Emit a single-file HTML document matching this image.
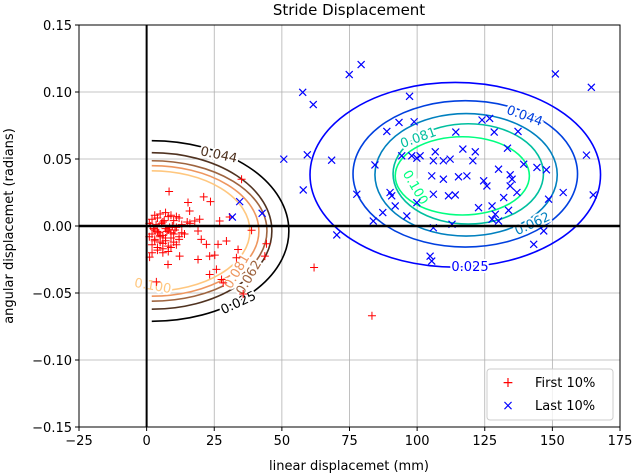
<!DOCTYPE html>
<html><head><meta charset="utf-8"><style>
body{margin:0;background:#fff}
svg{display:block;font-family:"DejaVu Sans","Liberation Sans",sans-serif}
</style></head><body>
<svg id="chart" width="634" height="474" viewBox="0 0 634 474">
<text x="349" y="15" text-anchor="middle" font-size="15">Stride Displacement</text>
<g id="grid"></g>
<g id="contours"></g>
<g id="points"></g>
<g id="axes"></g>
<text x="349" y="470" text-anchor="middle" font-size="13">linear displacemet (mm)</text>
<text transform="translate(13,226) rotate(-90)" text-anchor="middle" font-size="13">angular displacemet (radians)</text>
<g>
<rect x="487" y="369" width="126" height="51" rx="3" fill="#fff" fill-opacity="0.8" stroke="#ccc"/>
<g><text x="508" y="387" fill="red" font-size="14" text-anchor="middle">+</text><text x="535" y="387" font-size="13">First 10%</text></g>
<g><text x="508" y="410" fill="blue" font-size="14" text-anchor="middle">×</text><text x="535" y="410" font-size="13">Last 10%</text></g>
</g>
</svg>
<script>
const xTicks=[-25,0,25,50,75,100,125,150,175];
const yTicks=[-0.15,-0.10,-0.05,0.00,0.05,0.10,0.15];
const yTickLabels=["−0.15","−0.10","−0.05","0.00","0.05","0.10","0.15"];
const contourLevels=["0.025","0.044","0.062","0.081","0.100"];
const lastCx=[114.1,117.8,118.1,118.9,116.7];
const lastCy=[0.0382,0.0389,0.0382,0.0389,0.0374];
const lastRx=[53.7,41.5,33.7,27.8,24.8];
const lastRy=[0.0689,0.0546,0.0457,0.0374,0.0292];
const firstCx=[1.9,1.9,1.9,1.9,1.9];
const firstCy=[-0.0037,-0.0037,-0.0037,-0.0037,-0.0037];
const firstRx=[50.7,44.4,42.6,39.6,36.3];
const firstRy=[0.0674,0.0584,0.0524,0.0487,0.0449];
const lastX=[57.7,61.6,74.9,79.3,151.1,164.4,97.2,93.3,98.9,88.8,124,126.8,114.3,128.5,137.3,59.4,68.4,84.4,57.9,77.7,70.3,94.3,98,101.1,99.9,106.7,106,109.7,112.2,116.9,121.5,120.6,133.4,139.4,144.3,147.8,162.6,154,165.1,130.1,134.4,135.1,105.4,109.7,115.3,118.4,124.6,125.8,90,90.6,91.9,87.3,96.2,99.9,106,111.6,114.1,122.7,127.7,128.9,133.8,132,136.9,134.4,148.6,146.8,143.1,106,112.9,127.7,130.1,104.8,105.4,83.8,34.4,31.7,42.7,50.7];
const lastY=[0.0998,0.0906,0.113,0.1205,0.1135,0.1035,0.0968,0.0773,0.0778,0.0706,0.0791,0.0803,0.0701,0.0701,0.0706,0.0531,0.0491,0.0456,0.0269,0.0237,-0.0067,0.0524,0.0524,0.0524,0.0506,0.0554,0.0487,0.0487,0.0499,0.0574,0.0554,0.0487,0.0581,0.0461,0.0437,0.0419,0.0529,0.025,0.0232,0.0424,0.0382,0.0349,0.0374,0.0349,0.0367,0.0374,0.0337,0.0299,0.025,0.0225,0.015,0.01,0.0075,0.0174,0.0237,0.0225,0.0232,0.0137,0.015,0.0087,0.0117,0.0212,0.025,0.0299,0.02,-0.0037,-0.0137,-0.0013,0.0013,0.005,0.0037,-0.0225,-0.0262,0.0037,0.0182,0.0067,0.0095,0.0499];
const firstX=[8.3,15.3,21.1,23.6,15.9,35.1,27,30.7,38.8,44.3,43.7,33.2,29.5,33.8,19,20.2,25.2,23.3,19,12.2,7.9,1.1,3.6,25.8,23.3,27.7,28.3,35.7,22.1,26.4,17.8,19.6,61.9,83.3,
1,2,3,4,5,6,7,8,9,10,11,12,13,14,15,2,3,4,5,6,7,8,9,10,11,12,1.5,2.5,3.5,4.5,5.5,6.5,7.5,8.5,9.5,10.5,2,4,6,8,10,12,3,5,7,9,11,4,6,8,1,3,5,7,13,16,2,6,9];
const firstY=[0.0257,0.0175,0.0217,0.0182,0.0112,0.0349,0.0037,0.0067,-0.0032,-0.0132,-0.0225,-0.0237,-0.0112,-0.0175,-0.0037,-0.01,-0.0217,-0.0225,-0.025,-0.0225,-0.0287,-0.0232,-0.0417,-0.0324,-0.0362,-0.0399,-0.0424,-0.0507,-0.0137,-0.0137,0.0037,0.005,-0.031,-0.067,
0.002,0.005,-0.003,0.006,-0.008,0.003,-0.002,0.007,-0.005,0.004,-0.001,0.006,0.001,-0.006,0.003,-0.006,-0.010,-0.004,-0.012,-0.007,-0.011,-0.003,-0.009,-0.006,-0.014,-0.008,0.0,-0.002,0.001,-0.005,0.002,0.004,-0.004,-0.001,0.000,-0.003,-0.014,-0.016,-0.013,-0.015,-0.012,-0.010,0.008,0.009,0.010,0.008,0.007,-0.018,-0.017,-0.019,-0.008,-0.011,-0.007,-0.009,-0.005,0.002,-0.020,-0.020,-0.016];
const L=79,R=620,T=25,B=427;
const sx=v=>L+(v+25)/200*(R-L);
const sy=v=>B-(v+0.15)/0.30*(B-T);
const NS="http://www.w3.org/2000/svg";
function mk(tag,attrs,parent){const e=document.createElementNS(NS,tag);for(const k in attrs)e.setAttribute(k,attrs[k]);parent.appendChild(e);return e;}
const grid=document.getElementById('grid'),axes=document.getElementById('axes'),cg=document.getElementById('contours'),pg=document.getElementById('points');
xTicks.forEach(t=>{const g=mk('line',{x1:sx(t),x2:sx(t),y1:T,y2:B,stroke:'#b0b0b0','stroke-width':0.8},grid);

const tk=mk('line',{x1:sx(t),x2:sx(t),y1:B,y2:B+4,stroke:'#000'},axes);

const tx=mk('text',{x:sx(t),y:B+18,'text-anchor':'middle','font-size':13},axes);tx.textContent=t<0?'−'+(-t):t;
});
yTicks.forEach((t,i)=>{const g=mk('line',{x1:L,x2:R,y1:sy(t),y2:sy(t),stroke:'#b0b0b0','stroke-width':0.8},grid);

const tk=mk('line',{x1:L-4,x2:L,y1:sy(t),y2:sy(t),stroke:'#000'},axes);

const tx=mk('text',{x:L-7,y:sy(t)+5,'text-anchor':'end','font-size':13},axes);tx.textContent=yTickLabels[i];
});
const zx=mk('line',{x1:sx(0),x2:sx(0),y1:T,y2:B,stroke:'#000','stroke-width':2},axes);

const zy=mk('line',{x1:L,x2:R,y1:sy(0),y2:sy(0),stroke:'#000','stroke-width':2.5},axes);

const fr=mk('rect',{x:L,y:T,width:R-L,height:B-T,fill:'none',stroke:'#000','stroke-width':1},axes);

const blueCols=['#0000ff','#0040df','#0080bf','#00bf9f','#00ff80'];
const copperCols=['#000000','#4f3220','#9e643f','#ee965f','#ffc77f'];
for(let i=0;i<5;i++){
 const e=mk('ellipse',{cx:sx(lastCx[i]),cy:sy(lastCy[i]),rx:lastRx[i]*(R-L)/200,ry:lastRy[i]*(B-T)/0.3,fill:'none',stroke:blueCols[i],'stroke-width':1.6},cg);
 
 const cx=sx(firstCx[i]),cy=sy(firstCy[i]),rx=firstRx[i]*(R-L)/200,ry=firstRy[i]*(B-T)/0.3;
 const p=mk('path',{d:`M${cx},${cy-ry} A${rx},${ry} 0 0 1 ${cx},${cy+ry}`,fill:'none',stroke:copperCols[i],'stroke-width':1.6},cg);
 
}
const labels=[[470,271,0,'#0000ff','0.025'],[525,120,20,'#0040df','0.044'],[532,228,-25,'#0080bf','0.062'],[418,142,-20,'#00bf9f','0.081'],[416,192,60,'#00ff80','0.100'],
[219,159,12,'#4f3220','0.044'],[238,307,-25,'#000','0.025'],[153,290,10,'#ffc77f','0.100'],[236,276,-60,'#ee965f','0.081'],[248,282,-60,'#9e643f','0.062']];
labels.forEach(l=>{const t=mk('text',{x:l[0],y:l[1],'text-anchor':'middle','font-size':13,fill:l[3],transform:`rotate(${l[2]} ${l[0]} ${l[1]-5})`,stroke:'#fff','stroke-width':4,'paint-order':'stroke'},cg);t.textContent=l[4];
});
firstX.forEach((v,i)=>{const x=sx(v),y=sy(firstY[i]);
 const p=mk('path',{d:`M${x-4},${y}H${x+4}M${x},${y-4}V${y+4}`,stroke:'red','stroke-width':1},pg);
 });
lastX.forEach((v,i)=>{const x=sx(v),y=sy(lastY[i]);
 const p=mk('path',{d:`M${x-3.5},${y-3.5}L${x+3.5},${y+3.5}M${x-3.5},${y+3.5}L${x+3.5},${y-3.5}`,stroke:'blue','stroke-width':1.2},pg);
 });
</script>
</body></html>
